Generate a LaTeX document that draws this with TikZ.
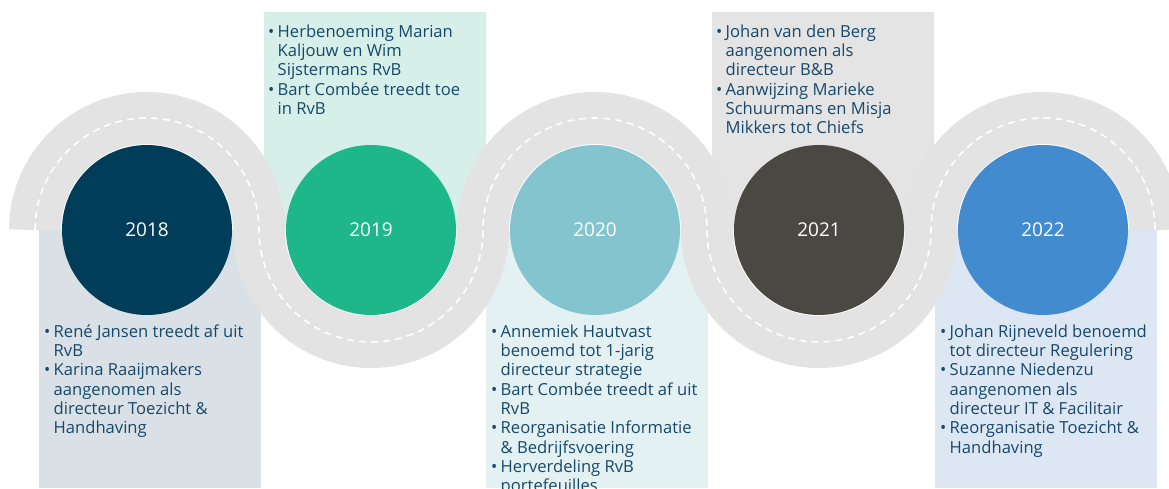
\documentclass[tikz,border=0pt]{standalone}
\usepackage{fontspec}
\setmainfont{Open Sans}
\definecolor{bandc}{HTML}{E3E3E3}
\definecolor{txtc}{HTML}{17486A}
\definecolor{c18}{HTML}{003D58}
\definecolor{c19}{HTML}{1DB78A}
\definecolor{c20}{HTML}{84C4CF}
\definecolor{c21}{HTML}{4A4843}
\definecolor{c22}{HTML}{418BCE}
\definecolor{b18}{HTML}{D9E1E6}
\definecolor{b19}{HTML}{D6F0E9}
\definecolor{b20}{HTML}{E3F1F3}
\definecolor{b21}{HTML}{E4E4E4}
\definecolor{b22}{HTML}{DDE7F3}
\newcommand{\bl}{\strut\makebox[9.5pt][l]{•}}
\newcommand{\ind}{\hspace*{9.5pt}}
\tikzset{
  yearc/.style={circle, minimum size=170pt, inner sep=0pt, text=white, font=\fontsize{19}{19}\selectfont},
  txt/.style={anchor=north west, inner sep=0pt, align=left, text=txtc, font=\fontsize{16.6}{19.3}\selectfont},
  bandline/.style={line width=52pt, draw=bandc, line cap=butt},
  dashline/.style={line width=1.6pt, draw=white, dash pattern=on 7pt off 5pt}
}
\begin{document}
\begin{tikzpicture}[x=1pt,y=1pt]
\useasboundingbox (0,0) rectangle (1169,488);
\clip (0,0) rectangle (1169,488);
% boxes
\fill[b18] (39,0) rectangle (261,258);
\fill[b19] (264,258) rectangle (486,476);
\fill[b20] (486,0) rectangle (708,258);
\fill[b21] (712,258) rectangle (934,476);
\fill[b22] (935,0) rectangle (1157,258);
% band
\coordinate (bs) at (35,258);
\draw[bandline] (bs) arc[start angle=180,end angle=0,radius=112]
  arc[start angle=180,end angle=360,radius=112]
  arc[start angle=180,end angle=0,radius=112]
  arc[start angle=180,end angle=360,radius=112]
  arc[start angle=180,end angle=0,radius=112];
\draw[dashline] (bs) arc[start angle=180,end angle=0,radius=112]
  arc[start angle=180,end angle=360,radius=112]
  arc[start angle=180,end angle=0,radius=112]
  arc[start angle=180,end angle=360,radius=112]
  arc[start angle=180,end angle=0,radius=112];
% circles
\node[yearc, fill=c18] (y18) at (147,258) {2018};
\node[yearc, fill=c19] (y19) at (371,258) {2019};
\node[yearc, fill=c20] (y20) at (595,258) {2020};
\node[yearc, fill=c21] (y21) at (819,258) {2021};
\node[yearc, fill=c22] (y22) at (1043,258) {2022};
% texts
\node[txt] (t18) at (44,164.5) {\bl René Jansen treedt af uit\\ \ind RvB\\ \bl Karina Raaijmakers\\ \ind aangenomen als\\ \ind directeur Toezicht \&\\ \ind Handhaving};
\node[txt] (t19) at (268,464.5) {\bl Herbenoeming Marian\\ \ind Kaljouw en Wim\\ \ind Sijstermans RvB\\ \bl Bart Combée treedt toe\\ \ind in RvB};
\node[txt] (t20) at (491,164.5) {\bl Annemiek Hautvast\\ \ind benoemd tot 1-jarig\\ \ind directeur strategie\\ \bl Bart Combée treedt af uit\\ \ind RvB\\ \bl Reorganisatie Informatie\\ \ind \& Bedrijfsvoering\\ \bl Herverdeling RvB\\ \ind portefeuilles};
\node[txt] (t21) at (716,464.5) {\bl Johan van den Berg\\ \ind aangenomen als\\ \ind directeur B\&B\\ \bl Aanwijzing Marieke\\ \ind Schuurmans en Misja\\ \ind Mikkers tot Chiefs};
\node[txt] (t22) at (940,164.5) {\bl Johan Rijneveld benoemd\\ \ind tot directeur Regulering\\ \bl Suzanne Niedenzu\\ \ind aangenomen als\\ \ind directeur IT \& Facilitair\\ \bl Reorganisatie Toezicht \&\\ \ind Handhaving};
\end{tikzpicture}
\end{document}
